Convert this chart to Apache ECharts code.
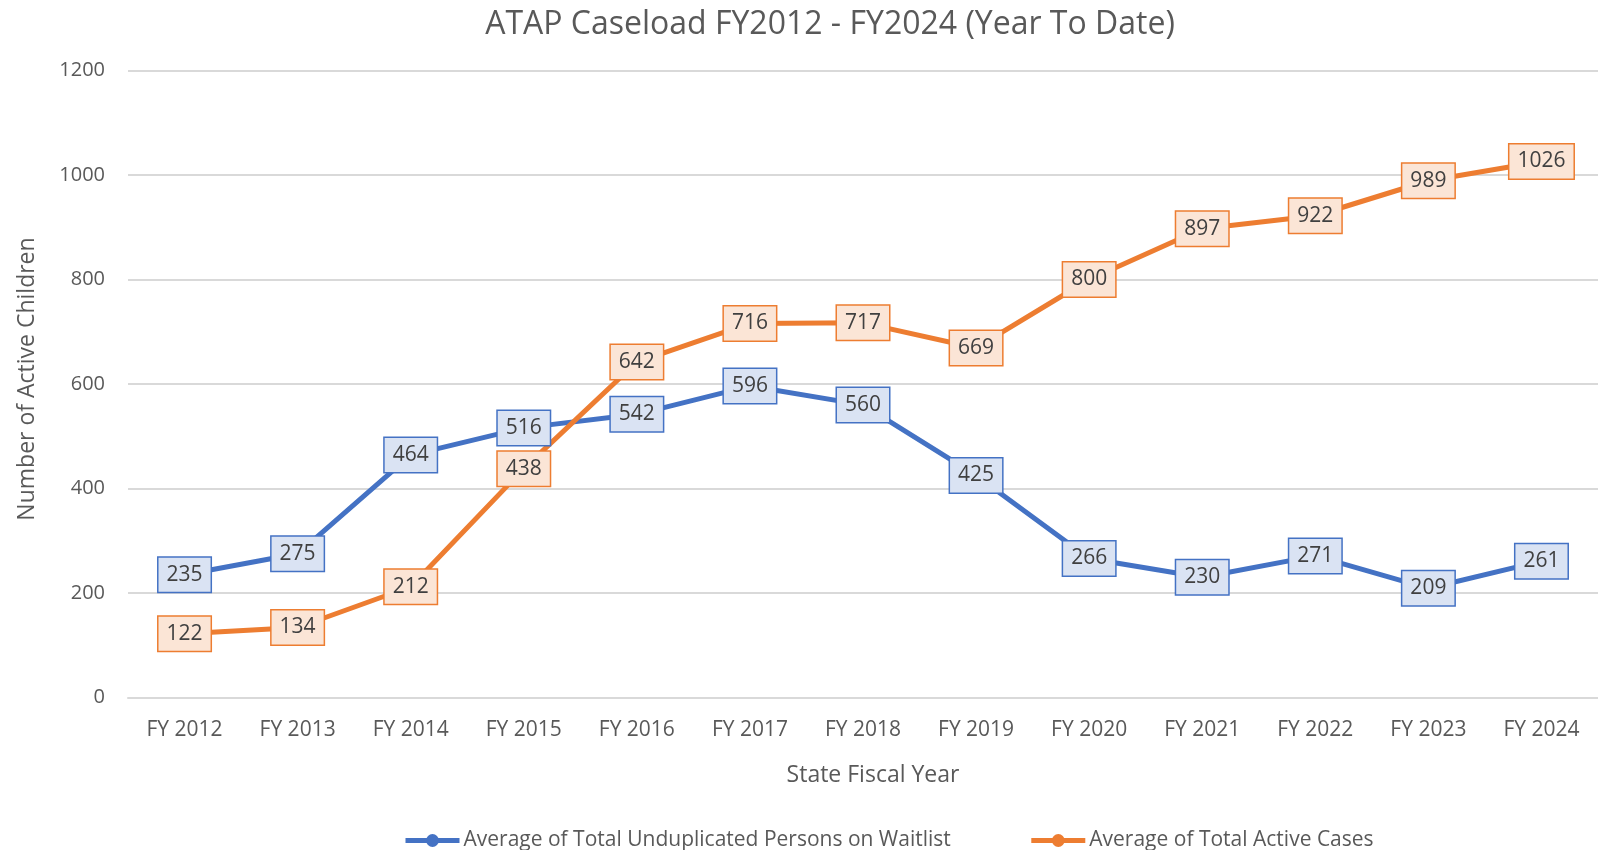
<!DOCTYPE html>
<html><head><meta charset="utf-8">
<script src="https://cdn.jsdelivr.net/npm/echarts@6/dist/echarts.min.js"></script>
<style>html,body{margin:0;padding:0;background:#fff}#c{width:1598px;height:850px}</style>
</head><body><div id="c"></div>
<script>
const categories = ['FY 2012','FY 2013','FY 2014','FY 2015','FY 2016','FY 2017','FY 2018','FY 2019','FY 2020','FY 2021','FY 2022','FY 2023','FY 2024'];
const waitlist = [235, 275, 464, 516, 542, 596, 560, 425, 266, 230, 271, 209, 261];
const activeCases = [122, 134, 212, 438, 642, 716, 717, 669, 800, 897, 922, 989, 1026];
const seriesNames = ['Average of Total Unduplicated Persons on Waitlist', 'Average of Total Active Cases'];
const FONT = '"Open Sans", "Noto Sans", sans-serif';
const chart = echarts.init(document.getElementById('c'), null, {renderer:'canvas'});
function lbl(border, bg){
  return {show:true, position:'inside', color:'#404040', fontFamily:FONT, fontSize:21,
    backgroundColor:bg, borderColor:border, borderWidth:1.5, padding:[7,8,6,8]};
}
chart.setOption({
  animation:false,
  textStyle:{fontFamily:FONT},
  title:{text:'ATAP Caseload FY2012 - FY2024 (Year To Date)', left:825, textAlign:'center', top:4,
    textStyle:{fontFamily:FONT, fontSize:32, fontWeight:'normal', color:'#595959'}},
  grid:{left:128, top:70.5, width:1474, height:627, containLabel:false},
  legend:{bottom:-6, left:398, itemWidth:54, itemHeight:16, itemGap:78,
    lineStyle:{width:5},
    textStyle:{fontFamily:FONT, fontSize:21, color:'#595959', padding:[0,0,0,-1]}, data:seriesNames},
  xAxis:{type:'category', data:categories, boundaryGap:true,
    name:'State Fiscal Year', nameLocation:'middle', nameGap:66,
    nameTextStyle:{fontFamily:FONT, fontSize:23, color:'#595959', padding:[0,0,0,20]},
    axisLine:{lineStyle:{color:'#d9d9d9', width:2}}, axisTick:{show:false},
    axisLabel:{fontFamily:FONT, fontSize:21, color:'#595959', margin:22}},
  yAxis:{type:'value', min:0, max:1200, interval:200,
    name:'Number of Active Children', nameLocation:'middle', nameGap:89, nameRotate:90,
    nameTextStyle:{fontFamily:FONT, fontSize:23, color:'#595959', padding:[0,0,0,10]},
    axisLine:{show:false}, axisTick:{show:false},
    axisLabel:{fontFamily:FONT, fontSize:20, color:'#595959', margin:23, formatter:v=>String(v)},
    splitLine:{lineStyle:{color:'#d9d9d9', width:2}}},
  series:[
    {name:seriesNames[0], type:'line', data:waitlist, symbol:'circle', symbolSize:10,
     lineStyle:{color:'#4472C4', width:5}, itemStyle:{color:'#4472C4'},
     label:lbl('#4472C4', '#DAE3F3')},
    {name:seriesNames[1], type:'line', data:activeCases, symbol:'circle', symbolSize:10,
     lineStyle:{color:'#ED7D31', width:5}, itemStyle:{color:'#ED7D31'},
     label:lbl('#ED7D31', '#FBE5D6')}
  ]
});
</script></body></html>
